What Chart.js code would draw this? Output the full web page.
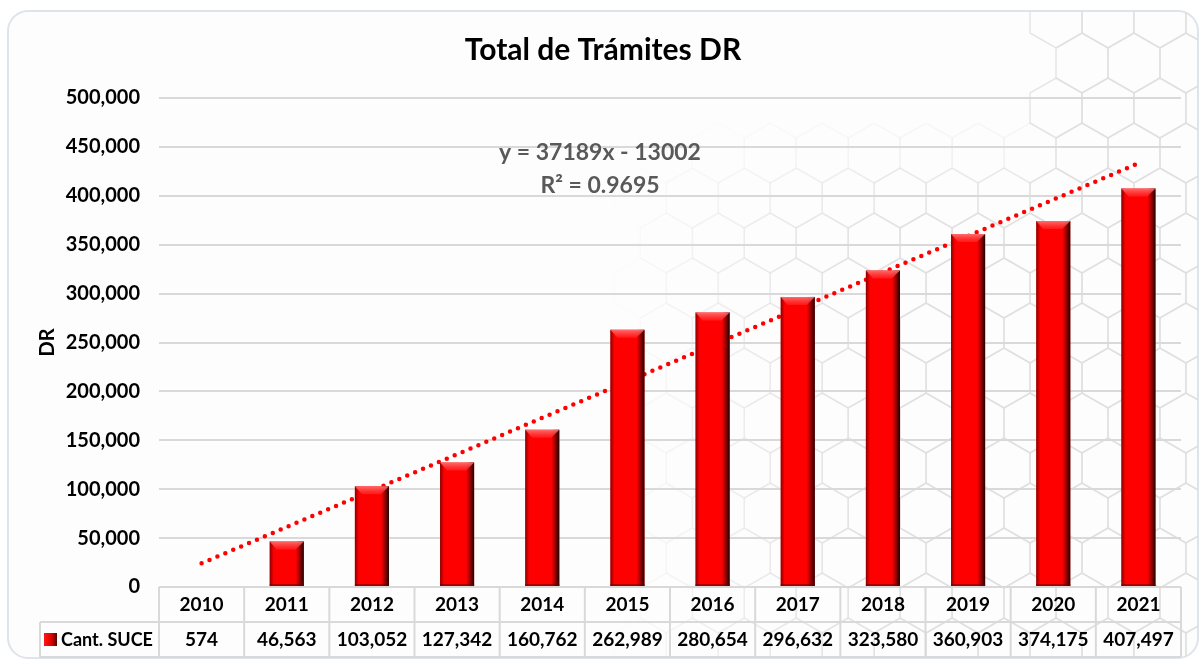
<!DOCTYPE html>
<html lang="es">
<head>
    <meta charset="UTF-8">
    <title>Total de Trámites DR</title>
    <script src="https://cdn.jsdelivr.net/npm/chart.js"></script>
    <style>
        body { margin: 0; background: #ffffff; }
        #wrap { width: 1200px; height: 661px; position: relative; }
    </style>
</head>
<body>

    <div id="wrap">
        <canvas id="chartDR"></canvas>
    </div>

    <script>
        // Datos del gráfico
        const anios = ["2010", "2011", "2012", "2013", "2014", "2015", "2016", "2017", "2018", "2019", "2020", "2021"];
        const cantSuce = [574, 46563, 103052, 127342, 160762, 262989, 280654, 296632, 323580, 360903, 374175, 407497];
        const yTicks = [0, 50000, 100000, 150000, 200000, 250000, 300000, 350000, 400000, 450000, 500000];
        // extremos de la línea de tendencia (2010 y 2021)
        const tendenciaExtremos = [24187, 433266];
        const textoTendencia = ["y = 37189x - 13002", "R² = 0.9695"];
        const titulo = "Total de Trámites DR";
        const nombreSerie = "Cant. SUCE";

        const fuente = "Lato, 'DejaVu Sans', sans-serif";

        let datosTendencia = anios.map((a, i) => {
            if (i === 0) return tendenciaExtremos[0];
            if (i === anios.length - 1) return tendenciaExtremos[1];
            return null;
        });

        function fmt(v) {
            return v.toLocaleString("en-US");
        }

        // Fondo: recuadro redondeado + hexágonos tenues
        const fondoPlugin = {
            id: "fondo",
            beforeDraw(chart) {
                let ctx = chart.ctx;
                ctx.save();
                ctx.beginPath();
                ctx.roundRect(8, 11, 1190, 647, 20);
                ctx.fillStyle = "#fdfdfd";
                ctx.fill();
                ctx.lineWidth = 2;
                ctx.strokeStyle = "#dfe3ea";
                ctx.stroke();
                ctx.clip();

                let r = 30, w = Math.sqrt(3) * r;
                ctx.lineWidth = 1.5;
                for (let k = -2; k < 16; k++) {
                    let cy = 63 + k * 45;
                    let off = (k % 2 === 0) ? 0 : w / 2;
                    for (let j = -14; j < 4; j++) {
                        let cx = 1082 + j * w + off;
                        let a = Math.min(1, Math.max(0, (cx - 620) / 300));
                        if (cy < 230 && cx < 1040) a *= Math.max(0, (cy - 120) / 110);
                        if (cy < 100 && cx < 1050) a = 0;
                        if (a <= 0) continue;
                        ctx.strokeStyle = "rgba(222,222,222," + (a * 0.75).toFixed(2) + ")";
                        ctx.beginPath();
                        for (let n = 0; n < 6; n++) {
                            let ang = Math.PI / 6 + n * Math.PI / 3;
                            let px = cx + r * Math.cos(ang), py = cy + r * Math.sin(ang);
                            if (n === 0) ctx.moveTo(px, py); else ctx.lineTo(px, py);
                        }
                        ctx.closePath();
                        ctx.stroke();
                    }
                }
                ctx.restore();
            }
        };

        // Efecto biselado de las barras
        const biselPlugin = {
            id: "bisel",
            afterDatasetsDraw(chart) {
                let ctx = chart.ctx;
                let meta = chart.getDatasetMeta(0);
                ctx.save();
                meta.data.forEach(bar => {
                    let left = bar.x - bar.width / 2;
                    let right = bar.x + bar.width / 2;
                    let top = bar.y;
                    let base = bar.base;
                    let h = base - top;
                    if (h < 2) return;
                    let b = Math.min(8, h / 2);

                    // lado derecho oscuro
                    let g = ctx.createLinearGradient(right - 8, 0, right, 0);
                    g.addColorStop(0, "rgba(60,0,0,0)");
                    g.addColorStop(1, "rgba(30,0,0,1)");
                    ctx.fillStyle = g;
                    ctx.fillRect(right - 8, top, 8, h);

                    // borde izquierdo
                    let g2 = ctx.createLinearGradient(left, 0, left + 4, 0);
                    g2.addColorStop(0, "rgba(90,0,0,0.7)");
                    g2.addColorStop(1, "rgba(90,0,0,0)");
                    ctx.fillStyle = g2;
                    ctx.fillRect(left, top, 4, h);

                    // bisel superior
                    let g3 = ctx.createLinearGradient(0, top, 0, top + b);
                    g3.addColorStop(0, "rgba(255,120,120,0.9)");
                    g3.addColorStop(1, "rgba(255,60,60,0.4)");
                    ctx.fillStyle = g3;
                    ctx.beginPath();
                    ctx.moveTo(left, top);
                    ctx.lineTo(right, top);
                    ctx.lineTo(right - 8, top + b);
                    ctx.lineTo(left + 7, top + b);
                    ctx.closePath();
                    ctx.fill();

                    // borde inferior
                    ctx.fillStyle = "rgba(110,0,0,0.6)";
                    ctx.fillRect(left, base - 2, bar.width, 2);
                });
                ctx.restore();
            }
        };

        // Título, ecuación de la tendencia y tabla de datos
        const tablaPlugin = {
            id: "tabla",
            afterDraw(chart) {
                let ctx = chart.ctx;
                let x = chart.scales.x;
                let area = chart.chartArea;
                let n = anios.length;
                let paso = (area.right - area.left) / n;
                let y0 = area.bottom, y1 = y0 + 35, y2 = y1 + 35;
                let leyendaX = 40;

                ctx.save();
                ctx.textAlign = "center";
                ctx.textBaseline = "middle";

                // título
                ctx.fillStyle = "#000000";
                ctx.font = "bold 30px " + fuente;
                ctx.fillText(titulo, 603, 50);

                // texto de la ecuación
                ctx.fillStyle = "#595959";
                ctx.font = "bold 23px " + fuente;
                ctx.fillText(textoTendencia[0], 600, 153);
                ctx.fillText(textoTendencia[1], 600, 186);

                // líneas de la tabla
                ctx.strokeStyle = "#d9d9d9";
                ctx.lineWidth = 2;
                ctx.beginPath();
                ctx.moveTo(area.left, y0); ctx.lineTo(area.right, y0);
                ctx.moveTo(leyendaX, y1); ctx.lineTo(area.right, y1);
                ctx.moveTo(leyendaX, y2); ctx.lineTo(area.right, y2);
                ctx.moveTo(leyendaX, y1); ctx.lineTo(leyendaX, y2);
                for (let i = 0; i <= n; i++) {
                    let xx = area.left + i * paso;
                    ctx.moveTo(xx, y0); ctx.lineTo(xx, y2);
                }
                ctx.stroke();

                // textos
                ctx.fillStyle = "#000000";
                ctx.font = "bold 19px " + fuente;
                anios.forEach((a, i) => {
                    let cx = x.getPixelForValue(i);
                    ctx.fillText(a, cx, y0 + 18);
                    ctx.fillText(fmt(cantSuce[i]), cx, y1 + 18);
                });

                // leyenda de la serie
                let gl = ctx.createLinearGradient(43, 0, 57, 0);
                gl.addColorStop(0, "#ff1a1a");
                gl.addColorStop(0.6, "#e00000");
                gl.addColorStop(1, "#5a0000");
                ctx.fillStyle = gl;
                ctx.fillRect(44, y1 + 11, 13, 13);
                ctx.fillStyle = "#000000";
                ctx.font = "bold 18px " + fuente;
                ctx.textAlign = "left";
                ctx.fillText(nombreSerie, 61, y1 + 18);
                ctx.restore();
            }
        };

        let ctxDR = document.getElementById("chartDR").getContext("2d");
        new Chart(ctxDR, {
            data: {
                labels: anios,
                datasets: [
                    {
                        type: "bar",
                        label: nombreSerie,
                        data: cantSuce,
                        backgroundColor: "#ff0000",
                        borderWidth: 0,
                        barPercentage: 0.4,
                        categoryPercentage: 1.0,
                        order: 0
                    },
                    {
                        type: "line",
                        label: "Tendencia",
                        data: datosTendencia,
                        spanGaps: true,
                        borderColor: "#ff0000",
                        borderWidth: 4.5,
                        borderDash: [0, 8.6],
                        borderCapStyle: "round",
                        pointRadius: 0,
                        fill: false,
                        order: 1
                    }
                ]
            },
            options: {
                responsive: true,
                maintainAspectRatio: false,
                animation: false,
                layout: {
                    padding: { left: 0, right: 19, top: 98, bottom: 74 }
                },
                plugins: {
                    legend: { display: false },
                    tooltip: { enabled: false },
                    title: { display: false }
                },
                scales: {
                    x: {
                        display: false,
                        offset: true
                    },
                    y: {
                        min: 0,
                        max: 500000,
                        afterBuildTicks: axis => {
                            axis.ticks = yTicks.map(v => ({ value: v }));
                        },
                        afterFit: scale => {
                            scale.width = 159;
                        },
                        border: { display: false },
                        grid: {
                            color: "#d9d9d9",
                            lineWidth: 2,
                            drawTicks: false
                        },
                        ticks: {
                            color: "#000000",
                            padding: 19,
                            font: { family: fuente, size: 20, weight: "bold" },
                            callback: v => fmt(v)
                        },
                        title: {
                            display: true,
                            text: "DR",
                            color: "#000000",
                            font: { family: fuente, size: 20, weight: "bold" },
                            padding: { top: 36, bottom: 0 }
                        }
                    }
                }
            },
            plugins: [fondoPlugin, biselPlugin, tablaPlugin]
        });
    </script>

</body>
</html>
